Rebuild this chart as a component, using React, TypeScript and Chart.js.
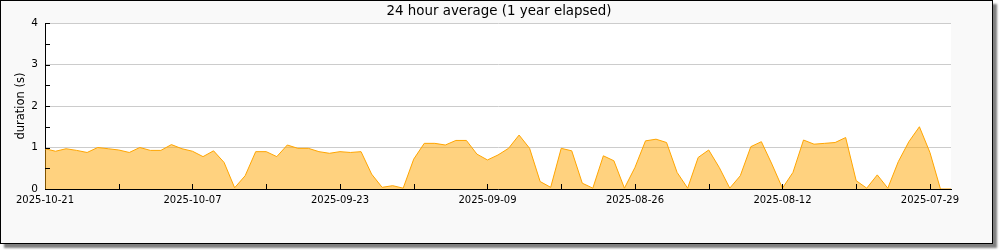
import React, { useEffect, useRef } from "react";
import { Chart, registerables } from "chart.js";

Chart.register(...registerables);

const days: string[] = [
  "2025-10-21", "2025-10-20", "2025-10-19", "2025-10-18", "2025-10-17", "2025-10-16", "2025-10-15",
  "2025-10-14", "2025-10-13", "2025-10-12", "2025-10-11", "2025-10-10", "2025-10-09", "2025-10-08",
  "2025-10-07", "2025-10-06", "2025-10-05", "2025-10-04", "2025-10-03", "2025-10-02", "2025-10-01",
  "2025-09-30", "2025-09-29", "2025-09-28", "2025-09-27", "2025-09-26", "2025-09-25", "2025-09-24",
  "2025-09-23", "2025-09-22", "2025-09-21", "2025-09-20", "2025-09-19", "2025-09-18", "2025-09-17",
  "2025-09-16", "2025-09-15", "2025-09-14", "2025-09-13", "2025-09-12", "2025-09-11", "2025-09-10",
  "2025-09-09", "2025-09-08", "2025-09-07", "2025-09-06", "2025-09-05", "2025-09-04", "2025-09-03",
  "2025-09-02", "2025-09-01", "2025-08-31", "2025-08-30", "2025-08-29", "2025-08-28", "2025-08-27",
  "2025-08-26", "2025-08-25", "2025-08-24", "2025-08-23", "2025-08-22", "2025-08-21", "2025-08-20",
  "2025-08-19", "2025-08-18", "2025-08-17", "2025-08-16", "2025-08-15", "2025-08-14", "2025-08-13",
  "2025-08-12", "2025-08-11", "2025-08-10", "2025-08-09", "2025-08-08", "2025-08-07", "2025-08-06",
  "2025-08-05", "2025-08-04", "2025-08-03", "2025-08-02", "2025-08-01", "2025-07-31", "2025-07-30",
  "2025-07-29", "2025-07-28", "2025-07-27",
];

const durations: number[] = [
  0.97, 0.91, 0.97, 0.93, 0.88, 1.0, 0.97, 0.94, 0.88, 1.0,
  0.93, 0.93, 1.07, 0.97, 0.91, 0.78, 0.92, 0.64, 0.03, 0.32,
  0.9, 0.9, 0.78, 1.06, 0.98, 0.98, 0.9, 0.86, 0.9, 0.88,
  0.9, 0.36, 0.04, 0.08, 0.02, 0.72, 1.1, 1.1, 1.06, 1.17,
  1.17, 0.84, 0.7, 0.82, 0.98, 1.3, 0.98, 0.18, 0.04, 0.98,
  0.92, 0.14, 0.02, 0.8, 0.68, 0.02, 0.52, 1.16, 1.2, 1.12,
  0.4, 0.02, 0.76, 0.94, 0.52, 0.02, 0.32, 1.02, 1.14, 0.6,
  0.02, 0.4, 1.18, 1.08, 1.1, 1.12, 1.24, 0.2, 0.02, 0.34,
  0.02, 0.66, 1.14, 1.5, 0.88, 0, 0,
];

const yTickValues: number[] = [0, 0.5, 1, 1.5, 2, 2.5, 3, 3.5, 4];
const labelEvery = 14;
const minorEvery = 7;
const chartTitle = "24 hour average (1 year elapsed)";

const FONT = "'DejaVu Sans', sans-serif";

const plotBackground = {
  id: "plotBackground",
  beforeDraw(chart: any) {
    const { ctx, chartArea } = chart;
    ctx.save();
    ctx.fillStyle = "#ffffff";
    ctx.fillRect(chartArea.left, chartArea.top, chartArea.right - chartArea.left, chartArea.bottom - chartArea.top);
    ctx.restore();
  },
};

const centeredTitle = {
  id: "centeredTitle",
  afterDraw(chart: any) {
    const { ctx } = chart;
    ctx.save();
    ctx.fillStyle = "#000";
    ctx.font = `13.4px ${FONT}`;
    ctx.textAlign = "center";
    ctx.textBaseline = "middle";
    ctx.fillText(chartTitle, 499, 11.5);
    ctx.restore();
  },
};

const insideTicks = {
  id: "insideTicks",
  afterDraw(chart: any) {
    const { ctx, chartArea, scales } = chart;
    const x = scales.x;
    const y = scales.y;
    ctx.save();
    ctx.strokeStyle = "#000";
    ctx.lineWidth = 1;
    ctx.beginPath();
    for (const v of yTickValues) {
      const py = Math.round(y.getPixelForValue(v)) + 0.5;
      ctx.moveTo(chartArea.left, py);
      ctx.lineTo(chartArea.left + 5, py);
    }
    for (let i = minorEvery; i < days.length; i += minorEvery) {
      const px = Math.round(x.getPixelForValue(i)) + 0.5;
      ctx.moveTo(px, chartArea.bottom);
      ctx.lineTo(px, chartArea.bottom - 5);
    }
    ctx.stroke();
    ctx.restore();
  },
};

export default function App() {
  const ref = useRef<HTMLCanvasElement>(null);

  useEffect(() => {
    if (!ref.current) return;
    const chart = new Chart(ref.current, {
      type: "line",
      data: {
        labels: days,
        datasets: [
          {
            data: durations,
            borderColor: "#ffa500",
            backgroundColor: "rgba(255,165,0,0.5)",
            borderWidth: 1,
            fill: "origin",
            pointRadius: 0,
            tension: 0,
          },
        ],
      },
      options: {
        animation: false,
        responsive: false,
        layout: { padding: { left: 0, right: 49, top: 23, bottom: 0 } },
        plugins: {
          legend: { display: false },
          tooltip: { enabled: false },
          title: { display: false },
        },
        scales: {
          x: {
            type: "category",
            offset: false,
            grid: { display: false, drawTicks: false },
            border: { color: "#000", width: 1 },
            ticks: {
              autoSkip: false,
              maxRotation: 0,
              minRotation: 0,
              padding: 5,
              color: "#000",
              font: { family: FONT, size: 10 },
              callback: (_v: any, i: number) => (i % labelEvery === 0 ? days[i] : ""),
            },
            afterFit: (s: any) => {
              s.height = 61;
            },
          },
          y: {
            min: 0,
            max: 4,
            ticks: {
              stepSize: 0.5,
              padding: 7,
              color: "#000",
              font: { family: FONT, size: 10.5 },
              callback: (v: any) => (Number.isInteger(Number(v)) ? String(v) : ""),
            },
            grid: {
              drawTicks: false,
              color: (c: any) => (Number.isInteger(c.tick?.value) ? "#cccccc" : "rgba(0,0,0,0)"),
            },
            border: { color: "#000", width: 1 },
            title: {
              display: true,
              text: "duration (s)",
              color: "#000",
              font: { family: FONT, size: 11.5 },
              padding: { top: 14, bottom: 0 },
            },
            afterFit: (s: any) => {
              s.width = 45;
            },
          },
        },
      },
      plugins: [plotBackground, insideTicks, centeredTitle],
    });
    return () => chart.destroy();
  }, []);

  return (
    <div style={{ position: "fixed", left: 0, top: 0, width: 1000, height: 250 }}>
      <div
        style={{
          position: "absolute",
          left: 0,
          top: 0,
          width: 993,
          height: 244,
          boxSizing: "border-box",
          border: "1px solid #000",
          background: "#f9f9f9",
          boxShadow: "4px 4px 2px #808080",
        }}
      />
      <canvas
        ref={ref}
        width={1000}
        height={250}
        style={{ position: "absolute", left: 0, top: 0, width: 1000, height: 250 }}
      />
    </div>
  );
}
